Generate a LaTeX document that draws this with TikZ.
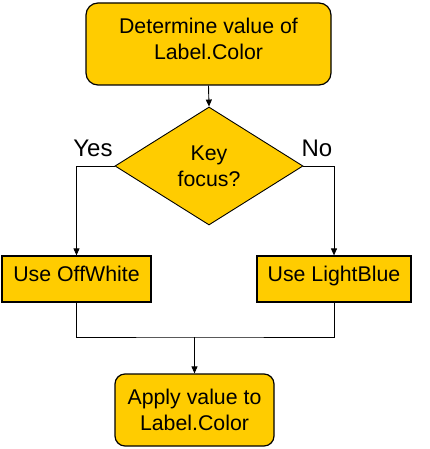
\documentclass[tikz,border=0pt]{standalone}
\usepackage{fontspec}
\setmainfont{Liberation Sans}
\usetikzlibrary{shapes.geometric,arrows.meta}
\definecolor{gold}{RGB}{255,204,0}
\begin{document}
\begin{tikzpicture}[x=1pt,y=1pt,
  box/.style={draw=black,line width=1.2pt,fill=gold,inner sep=0pt,font=\fontsize{21.3}{26}\selectfont,align=center},
  conn/.style={draw=black,line width=0.9pt},
  arr/.style={conn,-{Triangle[length=7pt,width=6pt]}},
  lbl/.style={font=\fontsize{24}{26}\selectfont,inner sep=0pt}]
\useasboundingbox (0,0) rectangle (429,-449);
\node[box,rounded corners=12pt,minimum width=245pt,minimum height=82pt,text depth=11pt] (start) at (208.5,-44) {Determine value of\\Label.Color};
\node[box,diamond,aspect=1.6,minimum width=188pt,minimum height=118pt,line width=0.9pt] (dec) at (209,-166) {Key\\focus?};
\node[box,minimum width=149pt,minimum height=46pt,text depth=10pt] (off) at (76.5,-279) {Use OffWhite};
\node[box,minimum width=154pt,minimum height=46pt,text depth=10pt] (blue) at (334,-279) {Use LightBlue};
\node[box,rounded corners=10pt,minimum width=159pt,minimum height=72pt] (apply) at (194.5,-410) {Apply value to\\Label.Color};
\node[lbl] (yes) at (93,-148) {Yes};
\node[lbl] (no) at (317,-148) {No};
\coordinate (j) at (194.5,-337);
\draw[arr] (start.south) -- (dec.north);
\draw[arr] (dec.west) -| (off.north);
\draw[arr] (dec.east) -| (blue.north);
\draw[conn] (off.south) |- (j) -| (blue.south);
\draw[arr] (j) -- (apply.north);
\end{tikzpicture}
\end{document}
